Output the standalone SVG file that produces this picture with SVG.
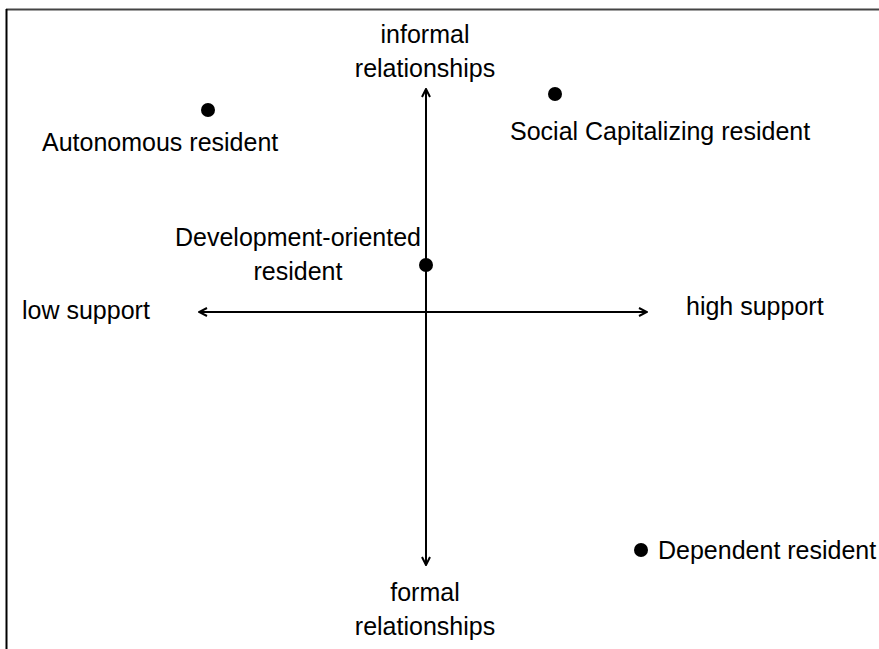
<svg xmlns="http://www.w3.org/2000/svg" width="879" height="649" viewBox="0 0 879 649">
<style>
text { font-family: "Liberation Sans", Arial, sans-serif; font-size: 25px; fill: #000; }
.mid { text-anchor: middle; }
.axis { stroke: #000; stroke-width: 2; fill: none; }
.dot { fill: #000; }
</style>
<defs>
<marker id="arr" viewBox="0 0 10 10" refX="9" refY="5" markerWidth="10" markerHeight="10" markerUnits="userSpaceOnUse" orient="auto-start-reverse">
<path d="M1,1 L9,5 L1,9" fill="none" stroke="#000" stroke-width="2"/>
</marker>
</defs>
<rect width="879" height="649" fill="#fff"/>
<line x1="6" y1="9.5" x2="879" y2="9.5" stroke="#444" stroke-width="2"/>
<line x1="6.5" y1="9" x2="6.5" y2="649" stroke="#000" stroke-width="2"/>
<g id="connectors">
<line class="axis" x1="199" y1="312" x2="647" y2="312" marker-start="url(#arr)" marker-end="url(#arr)"/>
<line class="axis" x1="426" y1="89" x2="426" y2="565" marker-start="url(#arr)" marker-end="url(#arr)"/>
</g>
<g id="axis-informal"><text class="mid" x="425" y="43">informal</text><text class="mid" x="425" y="77">relationships</text></g>
<g id="axis-formal"><text class="mid" x="425" y="601">formal</text><text class="mid" x="425" y="635">relationships</text></g>
<g id="axis-low"><text x="22" y="319">low support</text></g>
<g id="axis-high"><text x="686" y="315">high support</text></g>
<g id="autonomous"><circle class="dot" cx="208" cy="110" r="7"/><text x="42" y="151">Autonomous resident</text></g>
<g id="social"><circle class="dot" cx="555" cy="94" r="7"/><text x="510" y="140">Social Capitalizing resident</text></g>
<g id="development"><circle class="dot" cx="426" cy="265" r="7"/><text class="mid" x="298" y="246">Development-oriented</text><text class="mid" x="298" y="280">resident</text></g>
<g id="dependent"><circle class="dot" cx="641" cy="550" r="7"/><text x="658" y="559">Dependent resident</text></g>
</svg>
